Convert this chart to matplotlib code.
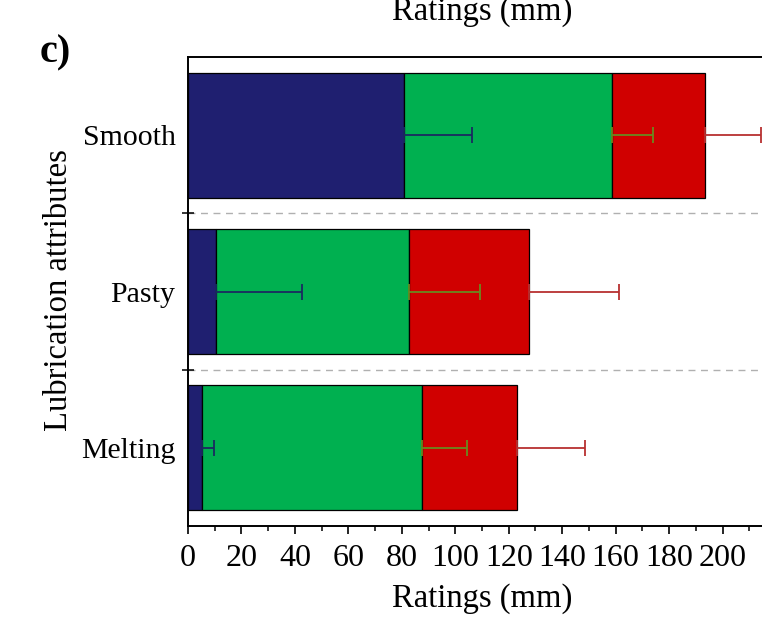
import matplotlib
matplotlib.use('Agg')
import matplotlib.pyplot as plt
from matplotlib.ticker import MultipleLocator
import numpy as np

# data (segment lengths in mm, error bars on each segment)
attributes = ['Melting', 'Pasty', 'Smooth']
seg_blue = [5.2, 10.6, 81.0]
seg_green = [82.3, 72.0, 77.5]
seg_red = [35.6, 45.1, 35.0]
err_blue = [4.5, 32.2, 25.3]
err_green = [16.8, 26.5, 15.3]
err_red = [25.6, 33.5, 21.0]
x_ticks = list(range(0, 201, 20))

plt.rcParams['font.family'] = ['Liberation Serif', 'DejaVu Serif']

W, H = 762, 628
fig = plt.figure(figsize=(W / 100, H / 100), dpi=100)
fig.patch.set_facecolor('white')

# axes run past the right edge of the picture (cropped panel)
ax = fig.add_axes([188 / W, (H - 526) / H, (776 - 188) / W, (526 - 57) / H])

y = np.arange(len(attributes))
segs = [seg_blue, seg_green, seg_red]
errs = [err_blue, err_green, err_red]
colors = ['#1f1f70', '#00b050', '#d00000']
ecolors = ['#1a2a60', '#6a8a20', '#b83030']

left = np.zeros(len(attributes))
for seg, err, c, ec in zip(segs, errs, colors, ecolors):
    seg = np.array(seg)
    ax.barh(y, seg, left=left, height=0.8, color=c, edgecolor='black',
            linewidth=0.9, zorder=1)
    ax.errorbar(left + seg, y, xerr=[np.zeros(len(y)), err], fmt='none',
                ecolor=ec, elinewidth=1.3, capsize=6, capthick=1.3, zorder=3)
    left = left + seg

# dashed separators between the categories
for yb in [0.5, 1.5]:
    ax.axhline(yb, color='#b0b0b0', lw=1.0, ls=(0, (5, 4)), zorder=0)

ax.set_xlim(0, 220)
ax.set_ylim(-0.5, 2.5)

ax.set_xticks(x_ticks)
ax.xaxis.set_minor_locator(MultipleLocator(10))
ax.tick_params(axis='x', which='major', direction='out', length=6, width=1.2,
               labelsize=23, pad=7, top=False)
ax.tick_params(axis='x', which='minor', direction='out', length=3.5, width=1.1,
               top=False)

ax.set_yticks(y)
ax.set_yticklabels(attributes)
ax.set_yticks([0.5, 1.5], minor=True)
ax.tick_params(axis='y', which='major', length=0, labelsize=21.5, pad=9)
ax.tick_params(axis='y', which='minor', direction='inout', length=8, width=1.1)

for s in ['left', 'bottom', 'top', 'right']:
    ax.spines[s].set_linewidth(1.4)

ax.set_xlabel('Ratings (mm)', fontsize=23.5, va='center')
ax.xaxis.set_label_coords(0.5, (526 - 599) / 469)
ax.set_ylabel('Lubrication attributes', fontsize=23.5, va='center')
ax.yaxis.set_label_coords((59 - 188) / 588, (526 - 290) / 469)

# x label of the panel above, cut by the top edge
fig.text(482 / W, 1 - 20 / H, 'Ratings (mm)', fontsize=23.5, ha='center',
         va='baseline')
fig.text(40 / W, 1 - 62 / H, 'c)', fontsize=29, fontweight='bold',
         ha='left', va='baseline')

fig.savefig('out.png', dpi=100)
